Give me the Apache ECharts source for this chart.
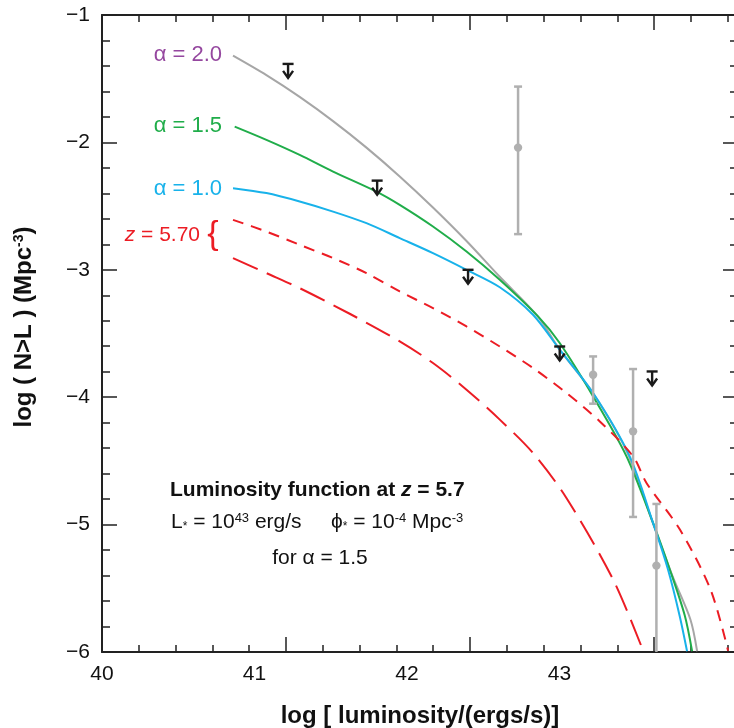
<!DOCTYPE html>
<html>
<head>
<meta charset="utf-8">
<script src="https://cdn.jsdelivr.net/npm/echarts@6/dist/echarts.min.js"></script>
<style>html,body{margin:0;padding:0;background:#fff}#c{width:734px;height:728px}</style>
</head>
<body>
<div id="c"></div>
<script>
// ---- data ----
const alpha20 = [[40.859,-1.319],[41.078,-1.472],[41.296,-1.643],[41.515,-1.833],[41.734,-2.041],[41.952,-2.267],[42.170,-2.511],[42.390,-2.774],[42.608,-3.055],[42.857,-3.366],[43.001,-3.627],[43.218,-3.965],[43.441,-4.427],[43.611,-4.984],[43.742,-5.408],[43.858,-5.745],[43.902,-5.994]];
const alpha15 = [[40.870,-1.876],[41.078,-1.980],[41.296,-2.098],[41.515,-2.229],[41.799,-2.386],[41.952,-2.490],[42.170,-2.660],[42.390,-2.856],[42.608,-3.078],[42.859,-3.366],[43.001,-3.575],[43.220,-3.994],[43.439,-4.464],[43.613,-4.987],[43.723,-5.353],[43.821,-5.714],[43.869,-5.994]];
const alpha10 = [[40.859,-2.359],[41.078,-2.398],[41.296,-2.464],[41.515,-2.543],[41.734,-2.634],[41.952,-2.751],[42.170,-2.869],[42.390,-3.000],[42.608,-3.137],[42.826,-3.353],[43.001,-3.627],[43.220,-3.967],[43.460,-4.464],[43.613,-4.987],[43.711,-5.353],[43.788,-5.719],[43.836,-5.994]];
const z570upper = [[40.859,-2.608],[41.078,-2.700],[41.296,-2.804],[41.515,-2.908],[41.734,-3.026],[41.952,-3.170],[42.170,-3.300],[42.390,-3.445],[42.608,-3.602],[42.826,-3.771],[43.045,-3.967],[43.264,-4.190],[43.482,-4.464],[43.570,-4.673],[43.789,-5.039],[43.990,-5.510],[44.105,-5.990]];
const z570lower = [[40.859,-2.908],[41.078,-3.026],[41.296,-3.144],[41.624,-3.345],[41.952,-3.562],[42.170,-3.732],[42.390,-3.941],[42.608,-4.176],[42.826,-4.438],[43.045,-4.791],[43.351,-5.431],[43.548,-5.990]];
const upperLimits = [[41.220,-1.384],[41.804,-2.300],[42.400,-3.000],[43.001,-3.602],[43.607,-3.798]];
// [x, y, errTop, errBottom]
const detections = [[42.728,-2.041,-1.562,-2.720],[43.220,-3.824,-3.680,-4.051],[43.482,-4.268,-3.779,-4.940],[43.635,-5.322,-4.838,-6.6]];
const xTickLabels = [40, 41, 42, 43];

const FONT = '"Liberation Sans", Arial, Helvetica, sans-serif';
const AXC = '#222';
const chart = echarts.init(document.getElementById('c'));

const tickAxis = (pos, showLine) => ({
  type: 'value', position: pos, gridIndex: 0, min: 0, max: 17.28, interval: 5,
  axisLine: {show: showLine, onZero: false, lineStyle: {color: AXC, width: 2}},
  axisTick: {show: true, inside: true, length: 15, lineStyle: {color: AXC, width: 1.5}},
  minorTick: {show: true, splitNumber: 5, length: 7, lineStyle: {color: AXC, width: 1.5}},
  axisLabel: {show: false}, splitLine: {show: false}, minorSplitLine: {show: false}
});

const yAx = (pos, labels) => ({
  type: 'value', position: pos, min: -6, max: -1, interval: 1,
  axisLine: {show: true, onZero: false, lineStyle: {color: AXC, width: 2}},
  axisTick: {show: true, inside: true, length: 15, lineStyle: {color: AXC, width: 1.5}},
  minorTick: {show: true, splitNumber: 5, length: 8, lineStyle: {color: AXC, width: 1.5}},
  splitLine: {show: false},
  axisLabel: {show: labels, margin: 12, color: '#111', fontSize: 21, fontFamily: FONT,
    formatter: v => '\u2212' + Math.abs(v)}
});

const line = (data, color, dash) => ({
  type: 'line', data, xAxisIndex: 0, yAxisIndex: 0, smooth: 0.3, symbol: 'none',
  lineStyle: {color, width: 2, type: dash || 'solid'}, z: 3, silent: true
});

const option = {
  animation: false,
  backgroundColor: '#fff',
  grid: {left: 102, top: 15, width: 636, height: 637, outerBoundsMode: 'none', containLabel: false},
  xAxis: [
    {type: 'value', position: 'bottom', min: 40, max: 44.17, interval: 1,
     axisLine: {show: true, onZero: false, lineStyle: {color: AXC, width: 2}},
     axisTick: {show: false}, splitLine: {show: false}, showMaxLabel: false,
     axisLabel: {margin: 12, color: '#111', fontSize: 21, fontFamily: FONT,
       formatter: v => xTickLabels.indexOf(v) >= 0 ? String(v) : ''},
     name: 'log [ luminosity/(ergs/s)]', nameLocation: 'middle', nameGap: 52,
     nameTextStyle: {color: '#111', fontSize: 24, fontWeight: 'bold', fontFamily: FONT}},
    tickAxis('bottom', false),
    tickAxis('top', true)
  ],
  yAxis: [yAx('left', true), yAx('right', false)],
  series: [
    line(alpha20, '#a6a6a6'),
    line(alpha15, '#20ad4a'),
    line(alpha10, '#18b2ea'),
    line(z570upper, '#ec1c24', [11, 8]),
    line(z570lower, '#ec1c24', [27, 10]),
    {
      type: 'custom', xAxisIndex: 0, yAxisIndex: 0, clip: true, z: 4,
      data: detections, encode: {x: 0, y: [1, 2, 3]},
      renderItem: (params, api) => {
        const x = api.value(0);
        const p = api.coord([x, api.value(1)]);
        const t = api.coord([x, api.value(2)]);
        const b = api.coord([x, api.value(3)]);
        const st = {stroke: '#b0b0b0', lineWidth: 2.5};
        return {type: 'group', children: [
          {type: 'line', shape: {x1: t[0], y1: t[1], x2: b[0], y2: b[1]}, style: st},
          {type: 'line', shape: {x1: t[0]-4, y1: t[1], x2: t[0]+4, y2: t[1]}, style: st},
          {type: 'line', shape: {x1: b[0]-4, y1: b[1], x2: b[0]+4, y2: b[1]}, style: st},
          {type: 'circle', shape: {cx: p[0], cy: p[1], r: 4.2}, style: {fill: '#b0b0b0'}}
        ]};
      }
    },
    {
      type: 'custom', xAxisIndex: 0, yAxisIndex: 0, clip: true, z: 5,
      data: upperLimits, encode: {x: 0, y: 1},
      renderItem: (params, api) => {
        const p = api.coord([api.value(0), api.value(1)]);
        const st = {stroke: '#1a1a1a', lineWidth: 2.4, fill: null};
        return {type: 'group', children: [
          {type: 'line', shape: {x1: p[0]-5.5, y1: p[1], x2: p[0]+5.5, y2: p[1]}, style: st},
          {type: 'line', shape: {x1: p[0], y1: p[1], x2: p[0], y2: p[1]+14}, style: st},
          {type: 'polyline', shape: {points: [[p[0]-5, p[1]+7], [p[0], p[1]+14], [p[0]+5, p[1]+7]]}, style: st}
        ]};
      }
    }
  ],
  graphic: [
    {type: 'text', x: 24, y: 327, rotation: Math.PI / 2, style: {
      text: 'log ( N>L ) (Mpc{sup|-3})', fill: '#111', font: 'bold 24px ' + FONT, align: 'center', verticalAlign: 'middle',
      rich: {sup: {fontSize: 14, fontWeight: 'bold', fontFamily: FONT, fill: '#111', verticalAlign: 'top', padding: [0, 0, 10, 0]}}}},
    {type: 'text', x: 222, y: 55, style: {text: 'α = 2.0', fill: '#95479f', font: '22px ' + FONT, align: 'right', verticalAlign: 'middle'}},
    {type: 'text', x: 222, y: 126, style: {text: 'α = 1.5', fill: '#20ad4a', font: '22px ' + FONT, align: 'right', verticalAlign: 'middle'}},
    {type: 'text', x: 222, y: 189, style: {text: 'α = 1.0', fill: '#18b2ea', font: '22px ' + FONT, align: 'right', verticalAlign: 'middle'}},
    {type: 'text', x: 200, y: 235, style: {text: '{i|z} = 5.70', fill: '#ec1c24', font: '21px ' + FONT, align: 'right', verticalAlign: 'middle',
      rich: {i: {fontStyle: 'italic', fontSize: 21, fontFamily: FONT, fill: '#ec1c24'}}}},
    {type: 'text', x: 213, y: 235, style: {text: '{', fill: '#ec1c24', font: '300 34px ' + FONT, align: 'center', verticalAlign: 'middle'}},
    {type: 'text', x: 170, y: 490, style: {text: 'Luminosity function at {i|z} = 5.7', fill: '#111', font: 'bold 21px ' + FONT, verticalAlign: 'middle',
      rich: {i: {fontStyle: 'italic', fontWeight: 'bold', fontSize: 21, fontFamily: FONT, fill: '#111'}}}},
    {type: 'text', x: 171, y: 522, style: {
      text: 'L{sub|*} = 10{sup|43} erg/s', fill: '#111', font: '21px ' + FONT, verticalAlign: 'middle',
      rich: {sub: {fontSize: 12, fontFamily: FONT, fill: '#111', verticalAlign: 'bottom'},
             sup: {fontSize: 13, fontFamily: FONT, fill: '#111', verticalAlign: 'top'}}}},
    {type: 'text', x: 331, y: 522, style: {
      text: 'ϕ{sub|*} = 10{sup|-4} Mpc{sup|-3}', fill: '#111', font: '21px ' + FONT, verticalAlign: 'middle',
      rich: {sub: {fontSize: 12, fontFamily: FONT, fill: '#111', verticalAlign: 'bottom'},
             sup: {fontSize: 13, fontFamily: FONT, fill: '#111', verticalAlign: 'top'}}}},
    {type: 'text', x: 320, y: 558, style: {text: 'for α = 1.5', fill: '#111', font: '21px ' + FONT, align: 'center', verticalAlign: 'middle'}}
  ]
};
chart.setOption(option);
</script>
</body>
</html>
